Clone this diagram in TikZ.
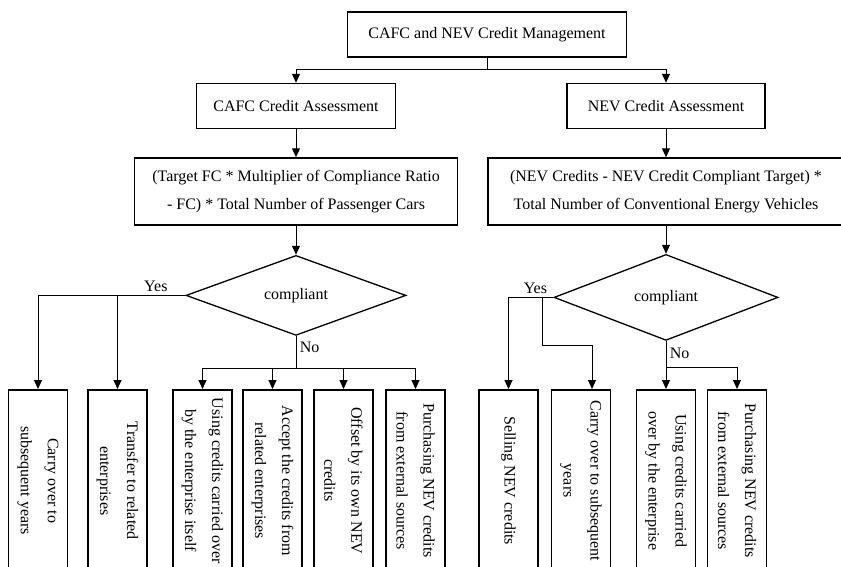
\documentclass[tikz,border=0pt]{standalone}
\usepackage{fontspec}
\setmainfont{Liberation Serif}
\usetikzlibrary{arrows.meta,positioning,shapes.geometric}
\tikzset{%
	block/.style    = {draw, rectangle, line width=1.5pt, inner sep=2pt, align=center},
	decision/.style = {draw, diamond, line width=1.3pt, inner sep=0pt, aspect=2.75},
	vblock/.style   = {draw, rectangle, line width=1.5pt, rotate=-90, anchor=west, minimum width=182pt, minimum height=59pt, inner sep=2pt, align=center, font=\fontsize{16}{27}\selectfont},
	waypoint/.style = {coordinate},
	line/.style     = {line width=1pt},
	arrow/.style    = {line width=1pt, -{Triangle[length=9pt, width=8pt]}},
}

\begin{document}
\begin{tikzpicture}[x=1pt, y=1pt, node distance=25pt, font=\fontsize{16}{28}\selectfont]
	\useasboundingbox (0,0) rectangle (841,-566);
	\node[block, minimum width=279pt, minimum height=45pt] (top) at (487,-34.5) {CAFC and NEV Credit Management};
	\node[block, minimum width=199pt, minimum height=45pt, below=25pt of top, xshift=-191pt] (cafc) {CAFC Credit Assessment};
	\node[block, minimum width=198pt, minimum height=45pt, below=25pt of top, xshift=179pt] (nev) {NEV Credit Assessment};
	\node[block, minimum width=323pt, minimum height=67pt, below=28pt of cafc] (fl) {(Target FC * Multiplier of Compliance Ratio\\- FC) * Total Number of Passenger Cars};
	\node[block, minimum width=356pt, minimum height=67pt, below=28pt of nev] (fr) {(NEV Credits - NEV Credit Compliant Target) *\\Total Number of Conventional Energy Vehicles};
	\node[decision, minimum width=220pt, minimum height=80pt, below=29pt of fl] (dl) {compliant};
	\node[decision, minimum width=224pt, minimum height=86pt, below=28pt of fr] (dr) {compliant};
	
	% CAFC outcomes
	\node[vblock] (b1) at (38,-389) {Carry over to\\subsequent years};
	\node[vblock] (b2) at (117.5,-389) {Transfer to related\\enterprises};
	\node[vblock] (b3) at (202.5,-389) {Using credits carried over\\by the enterprise itself};
	\node[vblock] (b4) at (272.5,-389) {Accept the credits from\\related enterprises};
	\node[vblock] (b5) at (343.5,-389) {Offset by its own NEV\\credits};
	\node[vblock] (b6) at (415.5,-389) {Purchasing NEV credits\\from external sources};
	% NEV outcomes
	\node[vblock] (r1) at (508.5,-389) {Selling NEV credits};
	\node[vblock] (r2) at (581,-389) {Carry over to subsequent\\years};
	\node[vblock] (r3) at (666,-389) {Using credits carried\\over by the enterprise};
	\node[vblock] (r4) at (737,-389) {Purchasing NEV credits\\from external sources};
	
	\node[waypoint, below=12pt of top] (wp1) {};
	\node[waypoint, below=32pt of dl] (wp2) {};
	\node[waypoint, left=11pt of dr] (wp3) {};
	\node[waypoint, below=48pt of wp3] (wp4) {};
	\node[waypoint, below=26pt of dr] (wp5) {};
	
	\draw[line] (top) -- (wp1);
	\draw[arrow] (wp1) -| (cafc);
	\draw[arrow] (wp1) -| (nev);
	\draw[arrow] (cafc) -- (fl);
	\draw[arrow] (nev) -- (fr);
	\draw[arrow] (fl) -- (dl);
	\draw[arrow] (fr) -- (dr);
	
	\draw[arrow] (dl) -| node[pos=0.1, above] {Yes} (b1);
	\draw[arrow] (b2 |- dl.west) -- (b2);
	\draw[line] (dl) -- node[pos=0.35, right] {No} (wp2);
	\draw[arrow] (wp2) -| (b3);
	\draw[arrow] (wp2) -| (b4);
	\draw[arrow] (wp2) -| (b5);
	\draw[arrow] (wp2) -| (b6);
	
	\draw[arrow] (dr) -| node[pos=0.2, above] {Yes} (r1);
	\draw[line] (wp3) -- (wp4);
	\draw[arrow] (wp4) -| ([xshift=11pt]r2.west);
	\draw[arrow] (dr) -- node[pos=0.25, right] {No} (r3);
	\draw[arrow] (wp5) -| (r4);
\end{tikzpicture}
\end{document}
